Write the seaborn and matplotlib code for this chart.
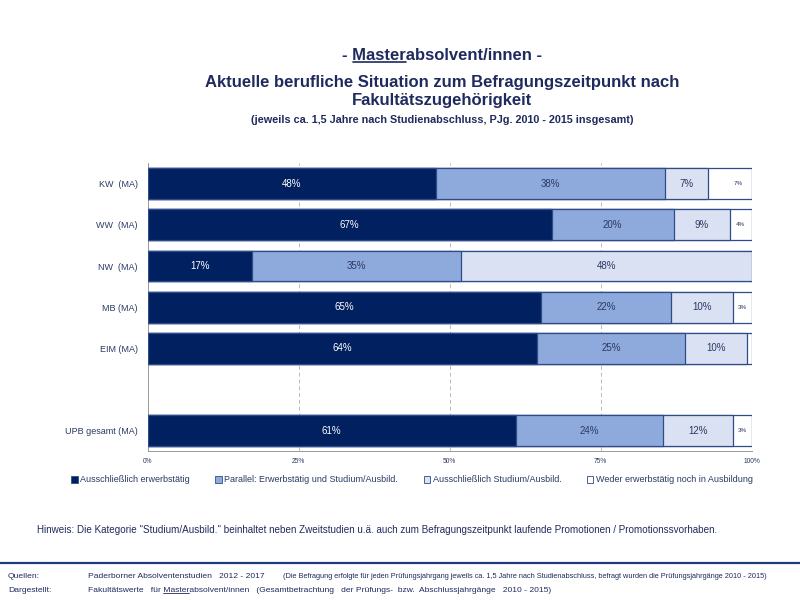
import numpy as np
import pandas as pd
import seaborn as sns
import matplotlib.pyplot as plt
from matplotlib.patches import Patch
from matplotlib.lines import Line2D

# Daten (Anteile in %)
faculties = ["KW  (MA)", "WW  (MA)", "NW  (MA)", "MB (MA)", "EIM (MA)", " ", "UPB gesamt (MA)"]
nur_erwerb = [47.8, 66.9, 17.2, 65.1, 64.4, np.nan, 60.9]
parallel = [37.8, 20.2, 34.6, 21.5, 24.6, np.nan, 24.4]
nur_studium = [7.1, 9.3, 48.2, 10.3, 10.2, np.nan, 11.6]
weder = [7.3, 3.6, 0.0, 3.1, 0.8, np.nan, 3.1]
series_names = ["Ausschließlich erwerbstätig",
                "Parallel: Erwerbstätig und Studium/Ausbild.",
                "Ausschließlich Studium/Ausbild.",
                "Weder erwerbstätig noch in Ausbildung"]
xticks = [0, 25, 50, 75, 100]

colors = ["#002060", "#8EA9DB", "#D9E1F2", "#FFFFFF"]
edge = "#2F4B8A"
navy = "#1F2A5E"
label_col = "#2B3A63"

sns.set_style("white")
plt.rcParams['font.family'] = ['Liberation Sans', 'DejaVu Sans']

df = pd.DataFrame({"Fak": faculties, "s1": nur_erwerb, "s2": parallel,
                   "s3": nur_studium, "s4": weder})
cols = ["s1", "s2", "s3", "s4"]
cum = df[cols].cumsum(axis=1)

fig = plt.figure(figsize=(8, 6), dpi=100)
ax = fig.add_axes([0.1846, 0.248, 0.755, 0.48])

# gestapelte Balken: kumulierte Summen von hinten nach vorne zeichnen
for i in range(3, -1, -1):
    sns.barplot(x=cum[cols[i]], y=df["Fak"], order=faculties, orient="h",
                color=colors[i], edgecolor=edge, linewidth=0.9, width=0.75,
                saturation=1, ax=ax, zorder=3)

# Beschriftungen
for r, fak in enumerate(faculties):
    for i, c in enumerate(cols):
        v = df.loc[r, c]
        if pd.isna(v) or v < 1:
            continue
        mid = cum.loc[r, c] - v / 2
        txt = f"{round(v):.0f}%"
        if v < 5:
            fs = 4.5
        elif i == 3:
            fs = 4.5
            mid = cum.loc[r, c] - 2.2
        else:
            fs = 7
        tc = "white" if i == 0 else label_col
        ax.text(mid, r, txt, ha="center", va="center", fontsize=fs, color=tc, zorder=5)

ax.set_xlim(0, 100)
ax.set_ylim(len(faculties) - 0.5, -0.5)
ax.set_xlabel("")
ax.set_ylabel("")
ax.set_xticks(xticks)
ax.set_xticklabels([f"{t}%" for t in xticks], fontsize=4.8, color=label_col)
ax.tick_params(axis="x", length=3, width=0.6, color="#999999", direction="out", pad=2)
ax.tick_params(axis="y", length=0, labelsize=6.5, labelcolor=label_col, pad=7)
ax.set_yticks(np.arange(-0.5, len(faculties), 1), minor=True)
ax.tick_params(axis="y", which="minor", length=3, width=0.6, color="#999999", direction="out")
for t in xticks[1:]:
    ax.axvline(t, color="#BBBBBB", lw=0.7, ls=(0, (4, 3)), zorder=0)
for s in ["top", "right"]:
    ax.spines[s].set_visible(False)
for s in ["left", "bottom"]:
    ax.spines[s].set_color("#999999")
    ax.spines[s].set_linewidth(0.7)

# Legende
handles = [Patch(facecolor=colors[i], edgecolor=edge, linewidth=0.6, label=series_names[i])
           for i in range(4)]
fig.legend(handles=handles, loc="center", bbox_to_anchor=(0.515, 0.2), ncol=4,
           frameon=False, fontsize=6.5, handlelength=0.7, handleheight=0.7,
           handletextpad=0.3, columnspacing=2.8, labelcolor=label_col)

# Titel
cx = 0.553
t1 = fig.text(cx, 1 - 56 / 600, "- Masterabsolvent/innen -", ha="center", va="center",
              fontsize=12, fontweight="bold", color=navy)
fig.text(cx, 1 - 82 / 600, "Aktuelle berufliche Situation zum Befragungszeitpunkt nach",
         ha="center", va="center", fontsize=12, fontweight="bold", color=navy)
fig.text(cx, 1 - 101 / 600, "Fakultätszugehörigkeit", ha="center", va="center",
         fontsize=12, fontweight="bold", color=navy)
fig.text(cx, 1 - 120 / 600, "(jeweils ca. 1,5 Jahre nach Studienabschluss, PJg. 2010 - 2015 insgesamt)",
         ha="center", va="center", fontsize=7.8, fontweight="bold", color=navy)

fig.text(37 / 800, 1 - 530 / 600,
         "Hinweis: Die Kategorie \"Studium/Ausbild.\" beinhaltet neben Zweitstudien u.ä. auch zum "
         "Befragungszeitpunkt laufende Promotionen / Promotionssvorhaben.",
         ha="left", va="center", fontsize=7.08, color=navy)

fig.add_artist(Line2D([0, 1], [1 - 563 / 600, 1 - 563 / 600], color="#1F3C7A", lw=1.6))

fs_f = 6.1
fig.text(8 / 800, 1 - 577 / 600, "Quellen:", fontsize=fs_f, color=navy, va="center")
fig.text(8 / 800, 1 - 591 / 600, "Dargestellt:", fontsize=fs_f, color=navy, va="center")
fig.text(88 / 800, 1 - 577 / 600, "Paderborner Absolventenstudien   2012 - 2017", fontsize=fs_f,
         color=navy, va="center")
fig.text(283 / 800, 1 - 577 / 600,
         "(Die Befragung erfolgte für jeden Prüfungsjahrgang jeweils ca. 1,5 Jahre nach Studienabschluss, "
         "befragt wurden die Prüfungsjahrgänge 2010 - 2015)", fontsize=5.3, color=navy,
         va="center")
t2 = fig.text(88 / 800, 1 - 591 / 600,
              "Fakultätswerte   für Masterabsolvent/innen   (Gesamtbetrachtung   der Prüfungs-  bzw.  "
              "Abschlussjahrgänge   2010 - 2015)", fontsize=fs_f, color=navy, va="center")


def underline(t, prefix, word, dy=2, lw=1.0):
    # Teil eines Textes unterstreichen
    fig.canvas.draw()
    r = fig.canvas.get_renderer()
    bb = t.get_window_extent(r)
    tmp = fig.text(0, 0, prefix, fontproperties=t.get_fontproperties())
    w0 = tmp.get_window_extent(r).width
    tmp.set_text(prefix + word)
    w1 = tmp.get_window_extent(r).width
    tmp.remove()
    y = bb.y0 + dy
    fig.add_artist(Line2D([(bb.x0 + w0) / 800, (bb.x0 + w1) / 800], [y / 600, y / 600],
                          color=t.get_color(), lw=lw))


underline(t1, "- ", "Master", dy=1.5, lw=1.2)
underline(t2, "Fakultätswerte   für ", "Master", dy=1.5, lw=0.6)

fig.savefig("out.png", dpi=100)
